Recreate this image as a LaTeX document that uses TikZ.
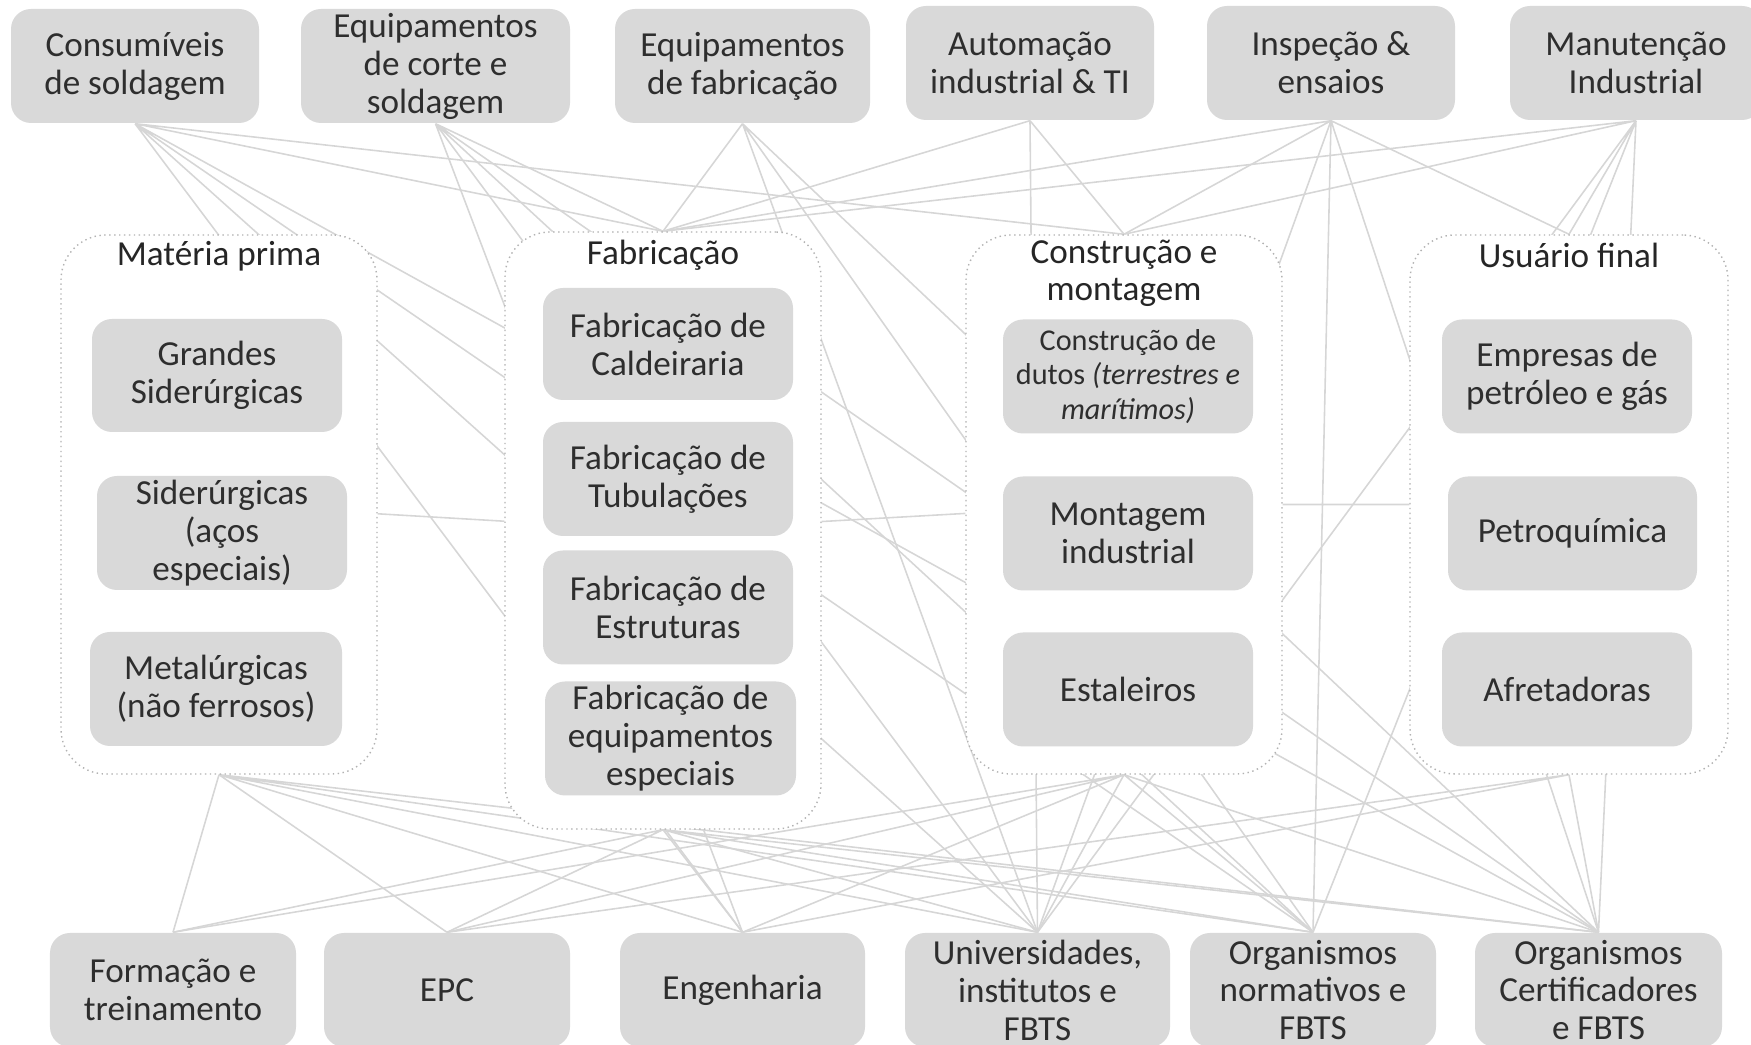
\documentclass[tikz,border=0pt]{standalone}
\usepackage{fontspec}
\setmainfont{Carlito}
\usetikzlibrary{positioning}
\usetikzlibrary{backgrounds}

\begin{document}
\begin{tikzpicture}[
    box/.style={fill=black!15, rounded corners=0.2cm, minimum width=#1, minimum height=1.14cm,
        align=center, inner sep=0pt, text=black!82, font=\fontsize{10}{10.8}\selectfont},
    group/.style={draw=black!30, densely dotted, line width=0.4pt, fill=white,
        rounded corners=0.45cm, minimum width=3.16cm},
    grouptitle/.style={align=center, inner sep=0pt, text=black!85, font=\fontsize{10}{10.8}\selectfont},
    link/.style={draw=black!16, line width=0.45pt}
]
    \useasboundingbox (0,0) rectangle (17.51,10.45);

    % Suppliers (top row)
    \node (consum) [box=2.48cm] at (1.35,9.79) {Consumíveis\\de soldagem};
    \node (corte) [box=2.69cm] at (4.355,9.79) {Equipamentos\\de corte e\\soldagem};
    \node (fabeq) [box=2.55cm] at (7.425,9.79) {Equipamentos\\de fabricação};
    \node (autom) [box=2.48cm] at (10.30,9.82) {Automação\\industrial \& TI};
    \node (insp) [box=2.48cm] at (13.31,9.82) {Inspeção \&\\ensaios};
    \node (manut) [box=2.52cm] at (16.36,9.82) {Manutenção\\Industrial};

    % Chain groups
    \node (mat) [group, minimum height=5.39cm] at (2.19,5.405) {};
    \node (fab) [group, minimum height=5.97cm] at (6.63,5.145) {};
    \node (cons) [group, minimum height=5.39cm] at (11.24,5.405) {};
    \node (usu) [group, minimum width=3.18cm, minimum height=5.39cm] at (15.69,5.405) {};

    \node (mat-title) [grouptitle] at ([yshift=-0.22cm]mat.north) {Matéria prima};
    \node (fab-title) [grouptitle] at ([yshift=-0.24cm]fab.north) {Fabricação};
    \node (cons-title) [grouptitle] at ([yshift=-0.39cm]cons.north) {Construção e\\montagem};
    \node (usu-title) [grouptitle] at ([yshift=-0.21cm]usu.north) {Usuário final};

    % Members of each group
    \node (grandes) [box=2.5cm, minimum height=1.13cm] at (2.17,6.695) {Grandes\\Siderúrgicas};
    \node (acos) [box=2.5cm] at (2.22,5.12) {Siderúrgicas\\(aços\\especiais)};
    \node (metal) [box=2.52cm] at (2.16,3.56) {Metalúrgicas\\(não ferrosos)};

    \node (cald) [box=2.5cm, minimum height=1.12cm] at (6.68,7.01) {Fabricação de\\Caldeiraria};
    \node (tubo) [box=2.5cm] at (6.68,5.66) {Fabricação de\\Tubulações};
    \node (estr) [box=2.5cm] at (6.68,4.375) {Fabricação de\\Estruturas};
    \node (espec) [box=2.51cm] at (6.705,3.065) {Fabricação de\\equipamentos\\especiais};

    \node (dutos) [box=2.5cm, font=\fontsize{8.6}{9.9}\selectfont] at (11.28,6.685)
        {Construção de\\dutos \textit{(terrestres e}\\\textit{marítimos)}};
    \node (mont) [box=2.5cm] at (11.28,5.115) {Montagem\\industrial};
    \node (estal) [box=2.5cm] at (11.28,3.555) {Estaleiros};

    \node (petro) [box=2.5cm] at (15.67,6.685) {Empresas de\\petróleo e gás};
    \node (quim) [box=2.49cm] at (15.725,5.115) {Petroquímica};
    \node (afret) [box=2.5cm] at (15.67,3.555) {Afretadoras};

    % Support institutions (bottom row)
    \node (form) [box=2.46cm] at (1.73,0.55) {Formação e\\treinamento};
    \node (epc) [box=2.46cm] at (4.47,0.55) {EPC};
    \node (eng) [box=2.45cm] at (7.425,0.55) {Engenharia};
    \node (univ) [box=2.65cm] at (10.375,0.55) {Universidades,\\institutos e\\FBTS};
    \node (norm) [box=2.46cm] at (13.13,0.55) {Organismos\\normativos e\\FBTS};
    \node (cert) [box=2.47cm] at (15.985,0.55) {Organismos\\Certificadores\\e FBTS};

    \begin{pgfonlayer}{background}
        % Links from the suppliers
        \draw[link] (consum.south) -- (eng.north) (consum.south) -- (univ.north)
            (consum.south) -- (norm.north) (consum.south) -- (cert.north)
            (consum.south) -- (fab.north) (consum.south) -- (cons.north);
        \draw[link] (corte.south) -- (fab.north) (corte.south) -- (eng.north)
            (corte.south) -- (univ.north) (corte.south) -- (norm.north) (corte.south) -- (cert.north);
        \draw[link] (fabeq.south) -- (fab.north) (fabeq.south) -- (univ.north)
            (fabeq.south) -- (norm.north) (fabeq.south) -- (cert.north);
        \draw[link] (autom.south) -- (fab.north) (autom.south) -- (cons.north) (autom.south) -- (univ.north);
        \draw[link] (insp.south) -- (fab.north) (insp.south) -- (cons.north) (insp.south) -- (usu.north)
            (insp.south) -- (univ.north) (insp.south) -- (norm.north) (insp.south) -- (cert.north);
        \draw[link] (manut.south) -- (fab.north) (manut.south) -- (cons.north) (manut.south) -- (usu.north)
            (manut.south) -- (univ.north) (manut.south) -- (norm.north) (manut.south) -- (cert.north);

        % Links along the chain
        \draw[link] (mat) -- (fab) (fab) -- (cons) (cons) -- (usu);

        % Links to the support institutions
        \draw[link] (mat.south) -- (form.north) (mat.south) -- (epc.north) (mat.south) -- (eng.north)
            (mat.south) -- (univ.north) (mat.south) -- (norm.north) (mat.south) -- (cert.north);
        \draw[link] (fab.south) -- (form.north) (fab.south) -- (epc.north) (fab.south) -- (eng.north)
            (fab.south) -- (univ.north) (fab.south) -- (norm.north) (fab.south) -- (cert.north);
        \draw[link] (cons.south) -- (form.north) (cons.south) -- (epc.north) (cons.south) -- (eng.north)
            (cons.south) -- (univ.north) (cons.south) -- (norm.north) (cons.south) -- (cert.north);
        \draw[link] (usu.south) -- (epc.north) (usu.south) -- (eng.north) (usu.south) -- (cert.north);
    \end{pgfonlayer}
\end{tikzpicture}
\end{document}
